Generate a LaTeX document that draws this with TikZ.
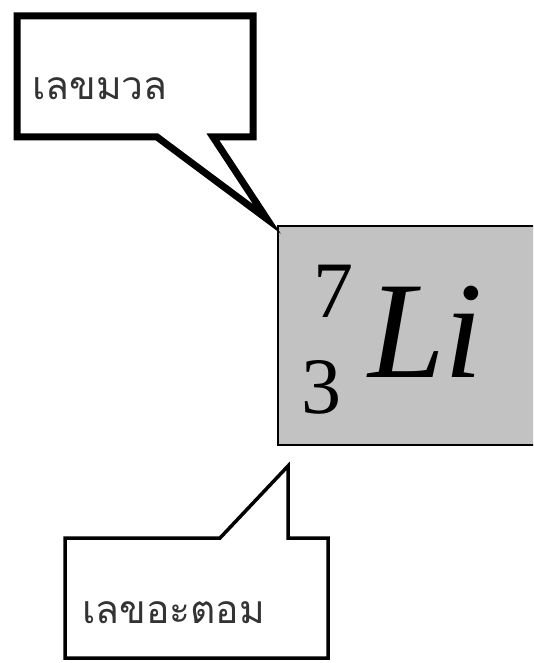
\documentclass[tikz,border=0pt]{standalone}
\usepackage{fontspec}
\setmainfont{Liberation Serif}
\newfontfamily\thaifont[Script=Thai]{Loma}
\begin{document}
\begin{tikzpicture}[x=1pt,y=-1pt,
  callout/.style={draw=black,fill=white,line join=miter,miter limit=20},
  thaitext/.style={inner sep=0pt,anchor=base west,text=black!80,font=\thaifont\fontsize{39}{39}\selectfont},
  elem/.style={draw=black,line width=1.5pt,fill=black!24}]
\useasboundingbox (0,0) rectangle (533,663);
\begin{scope}
\clip (0,0) rectangle (533,663);
% element box
\draw[elem] (278,226) rectangle (560,445);
\end{scope}
% top callout
\draw[callout,line width=7pt] (17,16) -- (253,16) -- (253,137) -- (213,137) -- (267,219) -- (157,137) -- (17,137) -- cycle;
\node[thaitext] (mass) at (32,100) {เลขมวล};
% bottom callout
\draw[callout,line width=3.5pt] (65,538) -- (220,538) -- (288,466) -- (288,538) -- (328,538) -- (328,658) -- (65,658) -- cycle;
\node[thaitext] (atomic) at (82,623) {เลขอะตอม};
% symbol
\node[inner sep=0pt,anchor=base west,font=\fontsize{80}{80}\selectfont] (A) at (313,317) {7};
\node[inner sep=0pt,anchor=base west,font=\fontsize{80}{80}\selectfont] (Z) at (301,413) {3};
\node[inner sep=0pt,anchor=base west,font=\itshape\fontsize{138}{138}\selectfont] (Li) at (368,377) {Li};
\end{tikzpicture}
\end{document}
